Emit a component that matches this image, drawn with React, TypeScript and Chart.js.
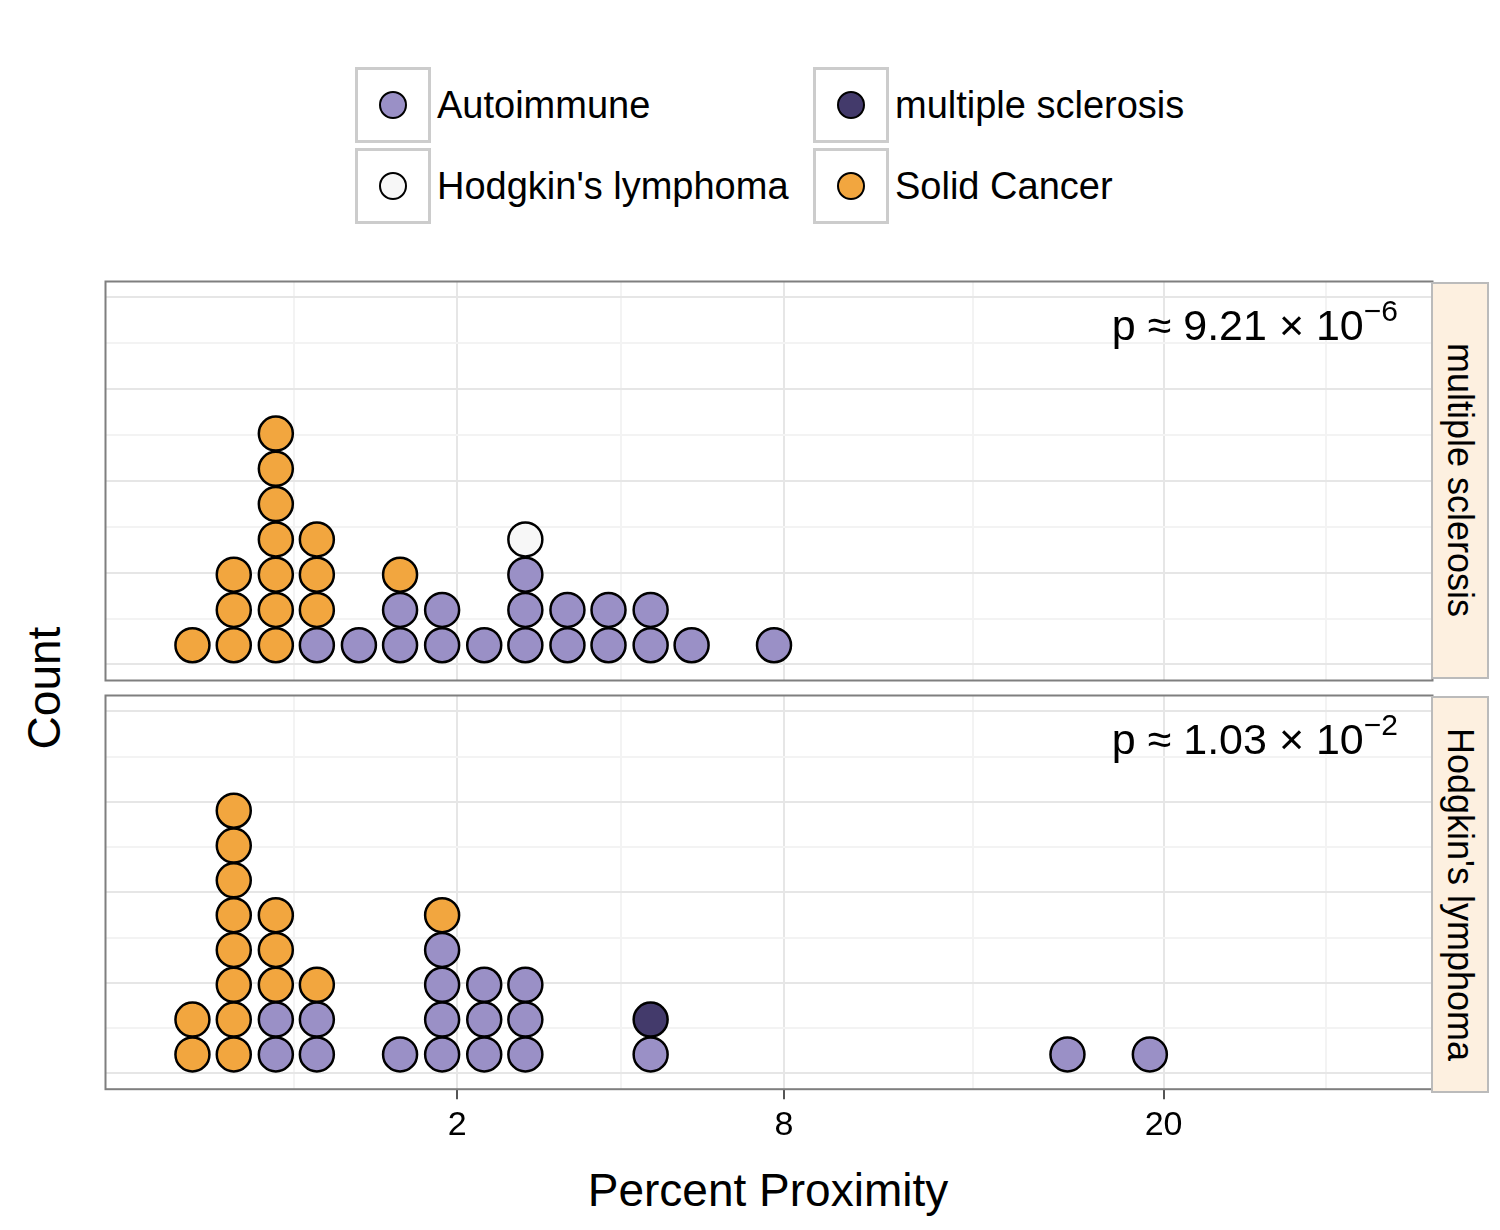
import React, { useEffect, useRef } from "react";
import { Chart, registerables } from "chart.js";
Chart.register(...registerables);

const categories = ["Autoimmune", "multiple sclerosis", "Hodgkin's lymphoma", "Solid Cancer"];
const colors: Record<string, string> = {
  "Autoimmune": "#9A90C6",
  "multiple sclerosis": "#433A6B",
  "Hodgkin's lymphoma": "#F7F7F7",
  "Solid Cancer": "#F2A63F",
};
// bin centre (percent proximity) and stacked categories bottom-to-top; A=Autoimmune O=Solid Cancer H=Hodgkin M=MS
const binValues = [0.072, 0.2, 0.396, 0.651, 0.978, 1.362, 1.82, 2.345, 2.922, 3.578, 4.282, 5.07, 5.9, 7.76, 16.45, 19.47];
const msStacks = ["O", "OOO", "OOOOOOO", "AOOO", "A", "AAO", "AA", "A", "AAAH", "AA", "AA", "AA", "A", "A", "", ""];
const hlStacks = ["OO", "OOOOOOOO", "AAOOO", "AAO", "", "A", "AAAAO", "AAA", "AAA", "", "", "AM", "", "", "A", "A"];
const xTicks = [2, 8, 20];
const xMinor = [0.5, 4.5, 13.3, 26.8];
const pValues = [["9.21", "6"], ["1.03", "2"]];
const codeMap: Record<string, string> = { A: "Autoimmune", O: "Solid Cancer", H: "Hodgkin's lymphoma", M: "multiple sclerosis" };

const XMIN = -0.108, XMAX = 5.636, YMAX = 11.31;

function buildDatasets(stacks: string[]) {
  return categories.map((cat) => ({
    label: cat,
    data: stacks.flatMap((s, i) =>
      s.split("").map((c, k) => (codeMap[c] === cat ? { x: Math.sqrt(binValues[i]), y: k + 1 } : null)).filter(Boolean)
    ) as any,
    backgroundColor: colors[cat],
    borderColor: "#000",
    borderWidth: 2.5,
    pointRadius: 17,
  }));
}

const borderPlugin = {
  id: "panelBorder",
  afterDraw(chart: any) {
    const { ctx, chartArea: a } = chart;
    ctx.save();
    ctx.strokeStyle = "#7f7f7f";
    ctx.lineWidth = 2;
    ctx.strokeRect(a.left, a.top, a.right - a.left, a.bottom - a.top);
    ctx.restore();
  },
};

function Panel({ stacks, showX }: { stacks: string[]; showX: boolean }) {
  const ref = useRef<HTMLCanvasElement>(null);
  useEffect(() => {
    const majX = xTicks.map(Math.sqrt);
    const all = [...xMinor.map(Math.sqrt), ...majX].sort((a, b) => a - b);
    const yLines: number[] = [];
    for (let v = 0.457; v < YMAX; v += 1.3) yLines.push(v);
    const chart = new Chart(ref.current!, {
      type: "scatter",
      data: { datasets: buildDatasets(stacks) },
      plugins: [borderPlugin],
      options: {
        animation: false,
        responsive: false,
        layout: { padding: 0 },
        plugins: { legend: { display: false }, tooltip: { enabled: false } },
        scales: {
          x: {
            type: "linear",
            min: XMIN,
            max: XMAX,
            afterBuildTicks: (ax: any) => { ax.ticks = all.map((v) => ({ value: v })); },
            ticks: {
              display: showX,
              autoSkip: false,
              maxRotation: 0,
              font: { size: 34, family: "Liberation Sans" },
              color: "#000",
              padding: 6,
              callback: (v: any) => {
                const i = majX.findIndex((m) => Math.abs(m - v) < 1e-6);
                return i >= 0 ? String(xTicks[i]) : "";
              },
            },
            grid: {
              drawTicks: showX,
              tickLength: 10,
              tickWidth: 2,
              tickColor: (c: any) => (majX.some((m) => Math.abs(m - c.tick.value) < 1e-6) ? "#555" : "rgba(0,0,0,0)"),
              color: (c: any) => (majX.some((m) => Math.abs(m - c.tick?.value) < 1e-6) ? "#E6E6E6" : "#F3F3F3"),
              lineWidth: 2,
            },
            border: { display: false },
          },
          y: {
            type: "linear",
            min: 0,
            max: YMAX,
            afterBuildTicks: (ax: any) => { ax.ticks = yLines.map((v) => ({ value: v })); },
            ticks: { display: false },
            grid: {
              drawTicks: false,
              color: (c: any) => (c.index % 2 === 0 ? "#E6E6E6" : "#F3F3F3"),
              lineWidth: 2,
            },
            border: { display: false },
          },
        },
      },
    });
    return () => chart.destroy();
  }, []);
  return <canvas ref={ref} width={1366} height={showX ? 476 : 438} style={{ display: "block" }} />;
}

const font = "'Liberation Sans', Arial, sans-serif";

function LegendItem({ cat, x, y }: { cat: string; x: number; y: number }) {
  return (
    <div style={{ position: "absolute", left: x, top: y, display: "flex", alignItems: "center" }}>
      <div style={{ width: 70, height: 70, border: "3px solid #CCCCCC", display: "flex", alignItems: "center", justifyContent: "center" }}>
        <div style={{ width: 24, height: 24, borderRadius: "50%", background: colors[cat], border: "2.5px solid #000" }} />
      </div>
      <span style={{ fontSize: 38, marginLeft: 6 }}>{cat}</span>
    </div>
  );
}

function Strip({ text, top }: { text: string; top: number }) {
  return (
    <div style={{ position: "absolute", left: 1431, top, width: 58, height: 397, background: "#FDF0E0", border: "2px solid #bbb", boxSizing: "border-box", display: "flex", alignItems: "center", justifyContent: "center" }}>
      <span style={{ writingMode: "vertical-rl", fontSize: 36 }}>{text}</span>
    </div>
  );
}

function PText({ p, top }: { p: string[]; top: number }) {
  return (
    <div style={{ position: "absolute", right: 1500 - 1398, top, fontSize: 43 }}>
      p ≈ {p[0]} × 10<sup style={{ fontSize: 30, position: "relative", top: -4 }}>−{p[1]}</sup>
    </div>
  );
}

export default function App() {
  return (
    <div style={{ position: "relative", width: 1500, height: 1230, margin: -8, background: "#fff", fontFamily: font, overflow: "hidden" }}>
      <LegendItem cat="Autoimmune" x={355} y={67} />
      <LegendItem cat="Hodgkin's lymphoma" x={355} y={148} />
      <LegendItem cat="multiple sclerosis" x={813} y={67} />
      <LegendItem cat="Solid Cancer" x={813} y={148} />
      <div style={{ position: "absolute", left: 86, top: 262 }}>
        <Panel stacks={msStacks} showX={false} />
      </div>
      <div style={{ position: "absolute", left: 86, top: 676 }}>
        <Panel stacks={hlStacks} showX={true} />
      </div>
      <Strip text="multiple sclerosis" top={282} />
      <Strip text="Hodgkin's lymphoma" top={696} />
      <PText p={pValues[0]} top={298} />
      <PText p={pValues[1]} top={712} />
      <div style={{ position: "absolute", left: 44, top: 688, transform: "translate(-50%,-50%) rotate(-90deg)", fontSize: 46 }}>Count</div>
      <div style={{ position: "absolute", left: 768, top: 1190, transform: "translate(-50%,-50%)", fontSize: 46, whiteSpace: "nowrap" }}>Percent Proximity</div>
    </div>
  );
}
